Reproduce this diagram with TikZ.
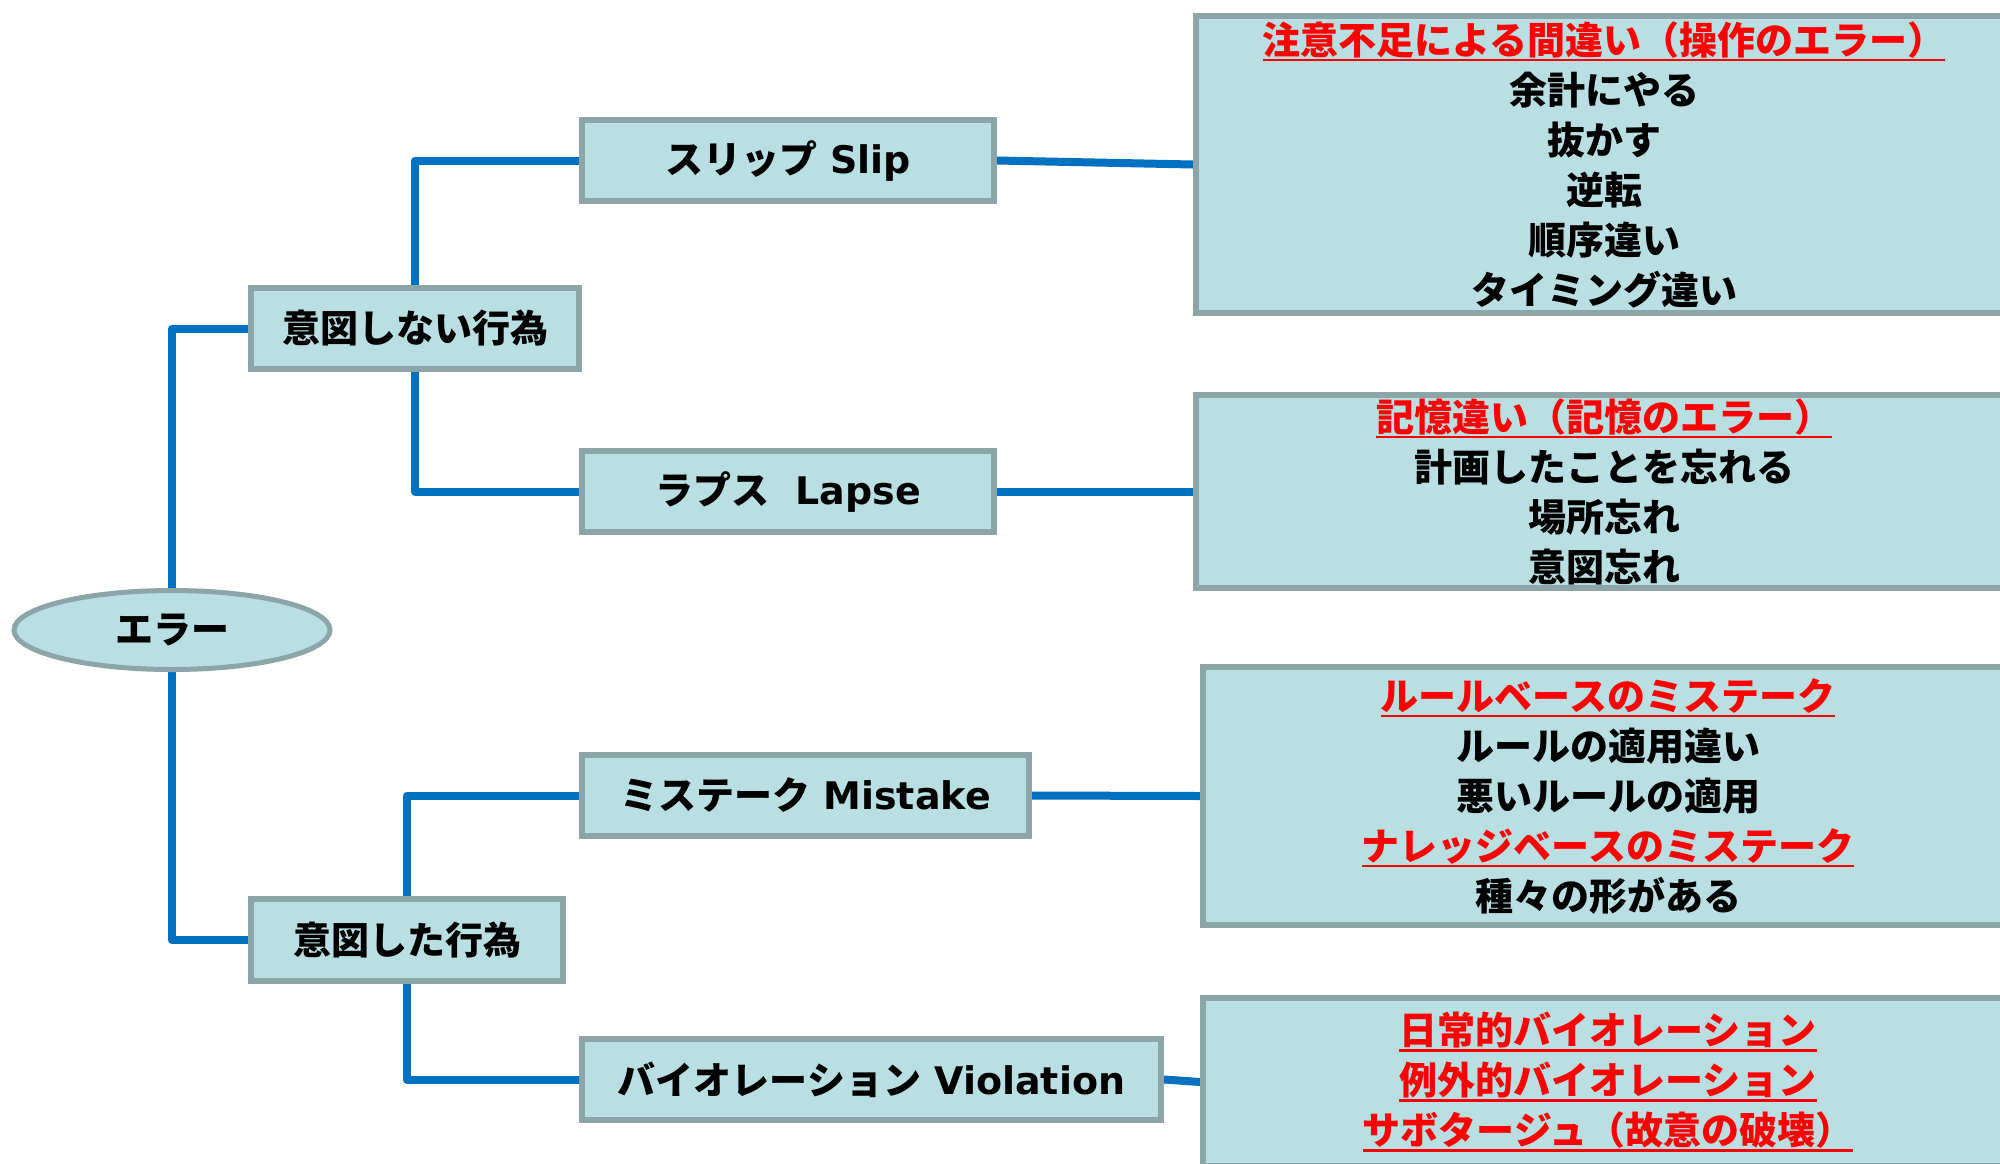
\documentclass[tikz,border=0pt]{standalone}
\usepackage{fontspec}
\newfontfamily\jp{Noto Sans CJK JP}[UprightFont={* Black}]
\newfontfamily\lat{DejaVu Sans}[UprightFont={* Bold}]
\usetikzlibrary{shapes.geometric,backgrounds}
\definecolor{boxfill}{HTML}{BADFE3}
\definecolor{boxline}{HTML}{8CA5A8}
\definecolor{connblue}{HTML}{0070C0}
\definecolor{ulred}{HTML}{FF0000}
\newsavebox\ulbox
\newcommand\redul[1]{\sbox\ulbox{\color{ulred}#1}\leavevmode{\color{ulred}\rlap{\rule[-3.6pt]{\wd\ulbox}{1.3pt}}}\usebox\ulbox}
\tikzset{
  boxstyle/.style={draw=boxline, line width=3pt, fill=boxfill, inner sep=0pt,
    font=\lat\fontsize{19}{25}\selectfont},
  midbox/.style={boxstyle, rectangle, minimum height=40.5pt},
  detailbox/.style={boxstyle, rectangle, align=center, font=\jp\fontsize{19}{25}\selectfont},
  rootstyle/.style={boxstyle, ellipse, line width=2.5pt, minimum width=158pt, minimum height=39.5pt},
  connline/.style={draw=connblue, line width=4pt, line join=round}
}
\begin{document}
\begin{tikzpicture}[x=0.5pt,y=-0.5pt]
\useasboundingbox (0,0) rectangle (2000,1163);

\node[rootstyle] (root) at (172,630) {{\jp エラー}};

\node[midbox, minimum width=164pt] (u) at (415,328.5) {{\jp 意図しない行為}};
\node[midbox, minimum width=156pt, minimum height=41pt] (i) at (407,940) {{\jp 意図した行為}};

\node[midbox, minimum width=206pt] (slip) at (788,160.5) {{\jp スリップ} Slip};
\node[midbox, minimum width=206pt] (lapse) at (788,491.5) {{\jp ラプス}\ \ Lapse};
\node[midbox, minimum width=223.5pt] (mis) at (805.5,795.5) {{\jp ミステーク} Mistake};
\node[midbox, minimum width=289.5pt] (vio) at (871.5,1079.5) {{\jp バイオレーション} Violation};

\node[detailbox, minimum width=408pt, minimum height=148.5pt] (d1) at (1604,164.5) {%
  \redul{注意不足による間違い（操作のエラー）}\\
  余計にやる\\ 抜かす\\ 逆転\\ 順序違い\\ タイミング違い};
\node[detailbox, minimum width=408pt, minimum height=96.5pt] (d2) at (1604,491.5) {%
  \redul{記憶違い（記憶のエラー）}\\
  計画したことを忘れる\\ 場所忘れ\\ 意図忘れ};
\node[detailbox, minimum width=405pt, minimum height=129pt] (d3) at (1608,796) {%
  \redul{ルールベースのミステーク}\\
  ルールの適用違い\\ 悪いルールの適用\\
  \redul{ナレッジベースのミステーク}\\
  種々の形がある};
\node[detailbox, minimum width=405pt, minimum height=84pt] (d4) at (1608,1082) {%
  \redul{日常的バイオレーション}\\
  \redul{例外的バイオレーション}\\
  \redul{サボタージュ（故意の破壊）}};

\begin{scope}[on background layer]
  \fill[white] (0,0) rectangle (2000,1163);
  \draw[connline] (root.north) |- (u.west);
  \draw[connline] (root.south) |- (i.west);
  \draw[connline] (u.north) |- (slip.west);
  \draw[connline] (u.south) |- (lapse.west);
  \draw[connline] (i.north) |- (mis.west);
  \draw[connline] (i.south) |- (vio.west);
  \draw[connline] (slip.east) -- (d1.west);
  \draw[connline] (lapse.east) -- (d2.west);
  \draw[connline] (mis.east) -- (d3.west);
  \draw[connline] (vio.east) -- (d4.west);
\end{scope}
\end{tikzpicture}
\end{document}
